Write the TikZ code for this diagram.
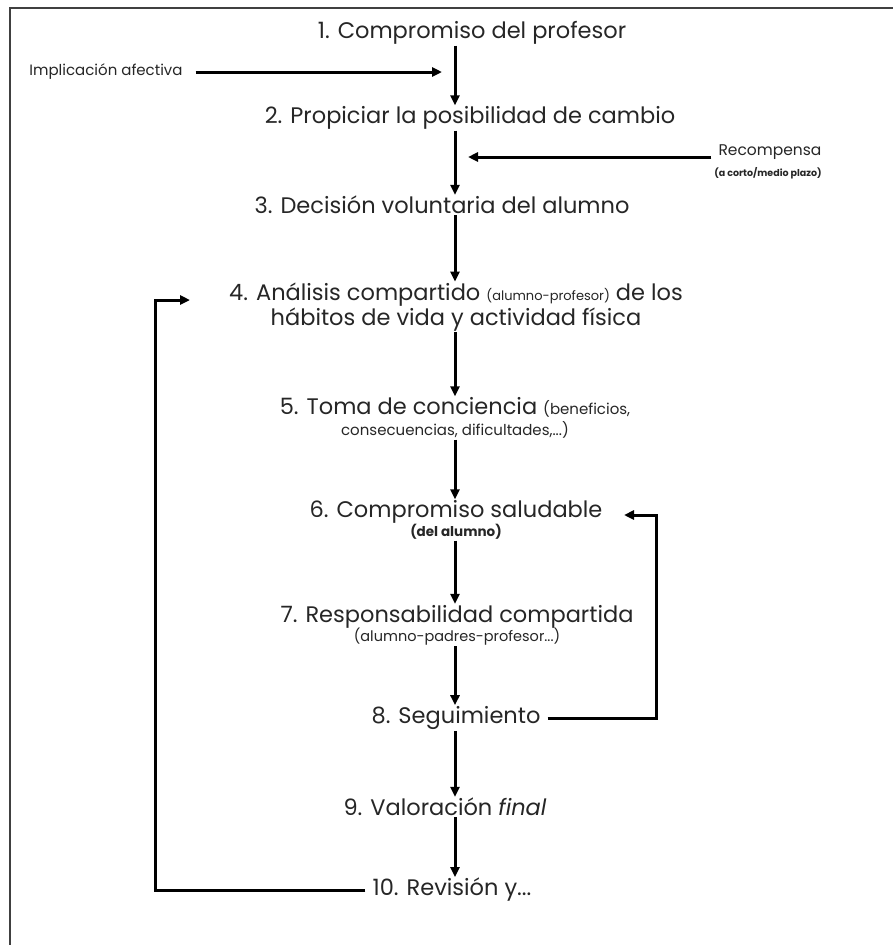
\documentclass[tikz,border=0pt]{standalone}
\usepackage{fontspec}
\setmainfont{Poppins}
\usetikzlibrary{arrows.meta,calc}
\definecolor{txt}{HTML}{262626}
\begin{document}
\begin{tikzpicture}[x=1pt,y=-1pt,
  big/.style={font=\fontsize{22.5}{27}\selectfont,text=txt,inner sep=1pt,align=center},
  small/.style={font=\fontsize{15}{18}\selectfont,text=txt,inner sep=1pt,align=center},
  arr/.style={line width=3pt,-{Triangle[length=10pt,width=9pt]}},
  frame/.style={line width=2.4pt,draw=black!75}]
\useasboundingbox (0,0) rectangle (893,945);
\fill[white] (0,0) rectangle (893,945);
\draw[frame] (10,946) -- (10,8) -- (894,8);
% nodes
\node[big] (n1) at (472,33) {1. Compromiso del profesor};
\node[small] (imp) at (106,72) {Implicación afectiva};
\node[big] (n2) at (470,118) {2. Propiciar la posibilidad de cambio};
\node[small,font=\fontsize{15.5}{18}\selectfont] (rec) at (770,152) {Recompensa};
\node[small,font=\fontsize{9.5}{11}\selectfont\bfseries] (recs) at (768,173) {(a corto/medio plazo)};
\node[big] (n3) at (442,205) {3. Decisión voluntaria del alumno};
\node[big] (n4) at (456,307) {4. Análisis compartido {\fontsize{13}{15}\selectfont(alumno-profesor)} de los\\[-2pt]hábitos de vida y actividad física};
\node[big] (n5) at (455,418) {5. Toma de conciencia {\fontsize{15}{17}\selectfont(beneficios,}\\[-6pt]{\fontsize{15}{17}\selectfont consecuencias, dificultades,...)}};
\node[big] (n6) at (456,520) {6. Compromiso saludable\\[-8pt]{\fontsize{13.5}{15}\selectfont\bfseries(del alumno)}};
\node[big] (n7) at (457,625) {7. Responsabilidad compartida\\[-8pt]{\fontsize{14.5}{16}\selectfont(alumno-padres-profesor...)}};
\node[big] (n8) at (456,718) {8. Seguimiento};
\node[big] (n9) at (445,807) {9. Valoración \textit{final}};
\node[big] (n10) at (452,890) {10. Revisión y...};
% coordinates
\coordinate (ax) at (455,0);
\coordinate (impEnd) at (442,72);
\coordinate (recEnd) at (468,157);
\coordinate (loopX) at (155,0);
\coordinate (loopEnd) at (190,300);
\coordinate (fbX) at (656,0);
\coordinate (fbEnd) at (624,515);
% main arrows
\draw[arr] (n1.south -| ax) -- (n2.north -| ax);
\draw[arr] (n2.south -| ax) -- (n3.north -| ax);
\draw[arr] (n3.south -| ax) -- (n4.north -| ax);
\draw[arr] (n4.south -| ax) -- (n5.north -| ax);
\draw[arr] (n5.south -| ax) -- (n6.north -| ax);
\draw[arr] (n6.south -| ax) -- (n7.north -| ax);
\draw[arr] (n7.south -| ax) -- (n8.north -| ax);
\draw[arr] (n8.south -| ax) -- (n9.north -| ax);
\draw[arr] (n9.south -| ax) -- (n10.north -| ax);
% side arrows
\draw[arr] ([xshift=12pt]imp.east) -- (impEnd);
\draw[arr] ([xshift=-6pt]rec.west |- recEnd) -- (recEnd);
\draw[arr] ([xshift=-6pt]n10.west) -- (n10.west -| loopX) -- (loopX |- loopEnd) -- (loopEnd);
\draw[arr] ([xshift=6pt]n8.east) -- (n8.east -| fbX) -- (fbX |- fbEnd) -- (fbEnd);
\end{tikzpicture}
\end{document}
